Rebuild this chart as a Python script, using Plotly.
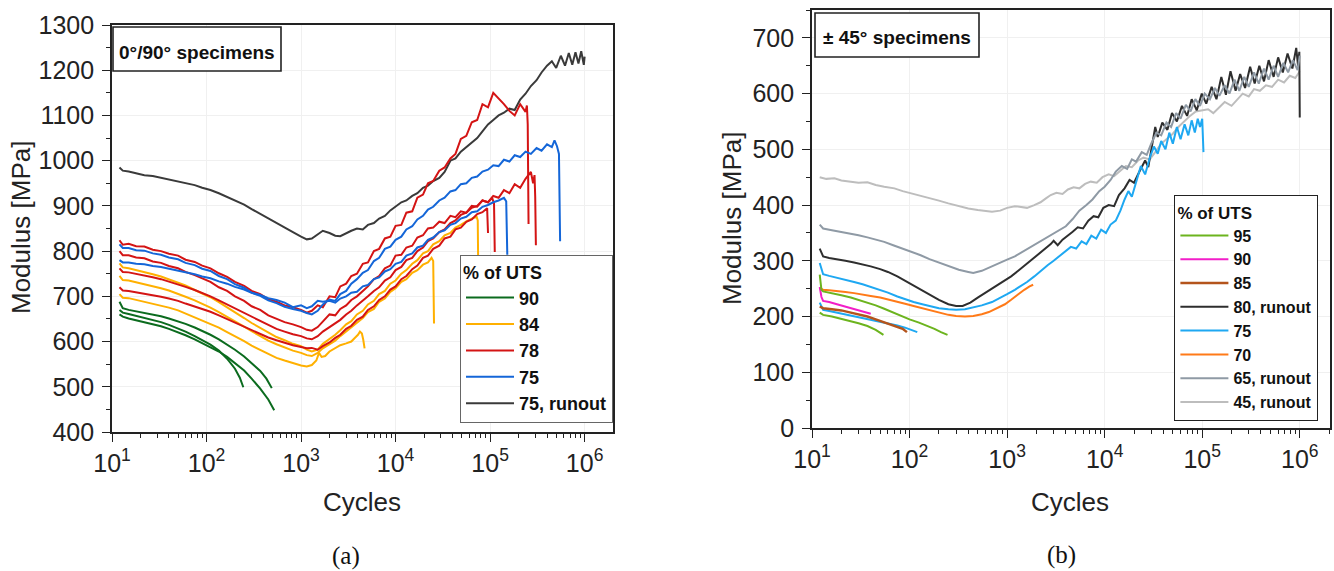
import plotly.graph_objects as go

# ======================= DATA =======================
# (a) 0°/90° specimens : (cycles, modulus MPa)
A90_1 = [(12,688),(13,674),(15,670),(18,667),(22,664),(27,660),(33,656),(40,651),(50,645),(60,639),(75,631),(90,624),(110,615),(135,605),(165,594),(200,582),(250,567),(300,553),(370,535),(430,518),(470,505),(490,497)]
A90_2 = [(12,670),(13,664),(15,661),(18,657),(22,653),(27,648),(33,643),(40,637),(50,629),(60,622),(75,612),(90,603),(110,593),(135,580),(165,562),(200,540),(225,520),(245,499)]
A90_3 = [(12,660),(13,655),(15,651),(18,647),(22,643),(27,639),(33,634),(40,628),(50,621),(60,614),(75,605),(90,597),(110,588),(135,578),(165,566),(200,553),(250,536),(300,518),(370,496),(450,472),(500,456),(520,448)]

A84_1 = [(12,773),(13,764),(15,762),(18,758),(22,755),(27,749),(33,744),(40,738),(50,731),(60,724),(75,714),(90,707),(110,698),(135,687),(165,676),(200,665),(250,652),(300,641),(370,630),(450,619),(550,610),(670,603),(820,595),
         (1000,590),(1150,582),(1300,578),(1500,582),(1700,595),(2000,605),(2300,615),(2600,625),(3000,638),(3400,645),(3900,660),(4500,668),(5100,682),(5900,690),(6700,705),(7700,712),(8800,728),(10000,735),(11500,750),(13000,758),(15000,772),(17000,780),(19500,795),(22000,800),(25000,815),(29000,822),(33000,835),(38000,840),(43000,852),(49000,858),(56000,866),(64000,872),(72000,876),(74000,868),(75000,742)]
A84_2 = [(12,745),(13,736),(15,735),(18,731),(22,728),(27,723),(33,718),(40,713),(50,706),(60,699),(75,691),(90,684),(110,675),(135,665),(165,655),(200,645),(250,633),(300,623),(370,612),(450,602),(550,594),(670,587),(820,580),
         (1000,575),(1150,570),(1300,568),(1500,575),(1700,585),(2000,595),(2300,602),(2600,612),(3000,622),(3400,632),(3900,642),(4500,652),(5100,665),(5900,672),(6700,688),(7700,695),(8800,710),(10000,718),(11500,732),(13000,738),(15000,752),(17000,758),(19500,770),(22000,775),(24000,785),(25000,778),(25500,640)]
A84_3 = [(12,705),(13,697),(15,696),(18,692),(22,689),(27,684),(33,680),(40,675),(50,669),(60,662),(75,654),(90,648),(110,640),(135,631),(165,621),(200,612),(250,601),(300,591),(370,582),(450,572),(550,564),(670,558),(820,552),
         (1000,547),(1150,545),(1300,548),(1450,558),(1550,575),(1650,566),(1800,568),(2000,578),(2300,585),(2600,592),(3000,596),(3400,600),(3700,608),(4000,615),(4200,622),(4400,618),(4550,604),(4700,585)]

A78_1 = [(12,824),(13,814),(15,816),(18,811),(22,810),(27,803),(33,800),(40,794),(50,790),(60,781),(75,776),(90,768),(110,762),(135,751),(165,743),(200,732),(250,723),(300,712),(370,705),(450,694),(550,688),(670,680),(820,676),
         (1000,670),(1150,664),(1300,668),(1500,680),(1700,676),(2000,700),(2300,698),(2600,722),(3000,728),(3400,745),(3900,750),(4500,772),(5100,775),(5900,800),(6700,805),(7700,828),(8800,832),(10000,856),(11500,858),(13000,885),(15000,888),(17000,918),(19500,925),(22000,950),(25000,955),(29000,978),(33000,985),(38000,1005),(43000,1015),(49000,1048),(56000,1055),(64000,1085),(73000,1090),(83000,1125),(95000,1118),(108000,1150),(123000,1138),(140000,1125),(160000,1110),(182000,1100),(208000,1125),(237000,1108),(245000,1122),(250000,1080),(255000,860)]
A78_2 = [(12,800),(13,791),(15,791),(18,786),(22,784),(27,777),(33,774),(40,767),(50,762),(60,754),(75,747),(90,739),(110,732),(135,720),(165,712),(200,700),(250,690),(300,678),(370,670),(450,658),(550,651),(670,643),(820,638),
         (1000,632),(1150,626),(1300,624),(1500,632),(1700,645),(2000,660),(2300,658),(2600,672),(3000,680),(3400,692),(3900,700),(4500,712),(5100,722),(5900,738),(6700,745),(7700,762),(8800,768),(10000,790),(11500,792),(13000,808),(15000,812),(17000,830),(19500,835),(22000,850),(25000,852),(29000,865),(33000,862),(38000,878),(43000,875),(49000,888),(56000,885),(64000,900),(73000,898),(83000,912),(95000,908),(108000,922),(123000,918),(140000,935),(160000,928),(182000,948),(208000,940),(237000,960),(270000,975),(285000,950),(295000,968),(300000,920),(305000,813)]
A78_3 = [(12,762),(13,754),(15,753),(18,750),(22,747),(27,742),(33,738),(40,733),(50,727),(60,721),(75,714),(90,708),(110,700),(135,691),(165,682),(200,673),(250,663),(300,654),(370,645),(450,636),(550,628),(670,622),(820,616),
         (1000,612),(1150,607),(1300,605),(1500,612),(1700,622),(2000,632),(2300,640),(2600,648),(3000,660),(3400,668),(3900,680),(4500,690),(5100,700),(5900,712),(6700,720),(7700,735),(8800,742),(10000,758),(11500,765),(13000,780),(15000,785),(17000,800),(19500,808),(22000,822),(25000,828),(29000,842),(33000,848),(38000,862),(43000,868),(49000,880),(56000,885),(64000,896),(73000,900),(83000,912),(95000,908),(105000,918),(110000,905),(112000,798)]
A78_4 = [(12,720),(13,713),(15,712),(18,709),(22,707),(27,703),(33,699),(40,695),(50,690),(60,684),(75,678),(90,672),(110,666),(135,658),(165,650),(200,642),(250,633),(300,625),(370,617),(450,609),(550,603),(670,597),(820,592),
         (1000,588),(1150,585),(1300,586),(1500,582),(1700,590),(2000,598),(2300,608),(2600,615),(3000,628),(3400,635),(3900,648),(4500,655),(5100,670),(5900,678),(6700,692),(7700,700),(8800,715),(10000,722),(11500,738),(13000,745),(15000,760),(17000,768),(19500,785),(22000,790),(25000,805),(29000,812),(33000,828),(38000,832),(43000,848),(49000,852),(56000,865),(64000,870),(73000,882),(83000,886),(93000,895),(95000,840)]

A75_1 = [(12,815),(13,807),(15,807),(18,802),(22,801),(27,795),(33,792),(40,786),(50,782),(60,774),(75,769),(90,761),(110,756),(135,745),(165,738),(200,727),(250,719),(300,708),(370,701),(450,691),(550,685),(670,677),(820,672),
         (1000,668),(1150,663),(1300,660),(1500,668),(1700,682),(2000,693),(2300,690),(2600,705),(3000,712),(3400,728),(3900,738),(4500,752),(5100,758),(5900,778),(6700,785),(7700,805),(8800,810),(10000,825),(11500,832),(13000,848),(15000,855),(17000,870),(19500,878),(22000,892),(25000,898),(29000,912),(33000,918),(38000,932),(43000,935),(49000,948),(56000,950),(64000,962),(73000,965),(83000,976),(95000,980),(108000,990),(123000,988),(140000,1002),(160000,998),(182000,1012),(208000,1008),(237000,1020),(270000,1015),(310000,1028),(350000,1022),(400000,1036),(450000,1030),(480000,1045),(510000,1032),(535000,1015),(550000,822)]
A75_2 = [(12,780),(13,775),(15,775),(18,772),(22,771),(27,767),(33,765),(40,761),(50,758),(60,753),(75,749),(90,744),(110,740),(135,733),(165,728),(200,721),(250,715),(300,708),(370,703),(450,696),(550,692),(670,686),(820,676),
         (1000,680),(1150,674),(1300,678),(1500,690),(1700,688),(2000,690),(2300,686),(2600,695),(3000,700),(3400,708),(3900,710),(4500,722),(5100,725),(5900,738),(6700,742),(7700,755),(8800,760),(10000,772),(11500,776),(13000,790),(15000,795),(17000,808),(19500,812),(22000,825),(25000,830),(29000,842),(33000,846),(38000,858),(43000,862),(49000,872),(56000,876),(64000,886),(73000,888),(83000,898),(95000,902),(108000,908),(123000,912),(140000,918),(148000,910),(152000,792)]

A75_RUN = [(12,985),(13,978),(15,976),(18,972),(22,968),(27,966),(33,962),(40,958),(50,955),(60,950),(75,946),(90,940),(110,935),(135,928),(165,920),(200,912),(250,903),(300,893),(370,882),(450,872),(550,862),(670,852),(820,842),
           (1000,832),(1150,826),(1300,828),(1500,838),(1700,845),(2000,840),(2300,834),(2600,833),(3000,840),(3400,845),(3900,850),(4500,848),(5100,858),(5900,862),(6700,872),(7700,878),(8800,890),(10000,898),(11500,908),(13000,912),(15000,922),(17000,928),(19500,940),(22000,945),(25000,955),(29000,962),(33000,975),(38000,1000),(43000,1005),(49000,1020),(56000,1030),(64000,1040),(73000,1050),(83000,1065),(95000,1080),(108000,1090),(123000,1100),(140000,1106),(160000,1115),(182000,1112),(208000,1135),(237000,1148),(270000,1165),(310000,1178),(350000,1195),(400000,1210),(450000,1220),(500000,1205),(560000,1232),(620000,1210),(680000,1238),(740000,1212),(800000,1240),(860000,1215),(920000,1242),(980000,1212),(1000000,1230)]

# (b) ±45° specimens : (cycles, modulus MPa)
B95_1 = [(12,275),(12.5,248),(13,245),(16,242),(20,238),(25,234),(30,230),(37,225),(45,220),(55,214),(68,207),(85,200),(100,195),(125,189),(150,184),(180,178),(210,172),(245,167)]
B95_2 = [(12,207),(13,203),(16,200),(20,196),(25,192),(30,188),(37,183),(45,176),(54,167)]
B90_1 = [(12,253),(12.5,235),(13,228),(15,226),(18,222),(22,218),(27,214),(33,210),(40,205)]
B85_1 = [(12,218),(13,215),(16,213),(20,211),(25,207),(30,204),(37,200),(45,195),(55,190),(65,186),(75,182),(85,178),(94,172)]
B80_RUN = [(12,322),(13,308),(15,305),(18,303),(22,300),(27,297),(33,294),(40,290),(50,285),(60,280),(75,272),(90,264),(110,256),(135,247),(165,238),(200,230),(250,222),(300,219),(350,219),(420,225),(500,234),(600,243),(750,253),(900,262),(1100,272),(1300,282),(1600,295),(1900,305),(2200,315),(2500,322),(2800,330),(3000,336),(3300,328),(3700,338),(4200,345),(4700,352),(5300,360),(6000,358),(6800,372),(7700,380),(8600,378),(9700,395),(11000,400),(12500,398),(14000,418),(16000,430),(18000,445),(20000,440),(23000,462),(26000,480),(28000,468),(31000,510),(33000,540),(35000,522),(39000,548),(44000,535),(49000,565),(55000,550),(62000,578),(70000,560),(78000,590),(88000,570),(99000,600),(110000,582),(125000,612),(140000,590),(157000,630),(175000,598),(195000,640),(220000,605),(245000,635),(275000,610),(310000,648),(345000,618),(385000,650),(430000,622),(480000,660),(540000,630),(600000,665),(670000,638),(750000,672),(840000,645),(920000,682),(960000,650),(990000,675),(1000000,557)]
B75_1 = [(12,296),(13,276),(15,273),(18,270),(22,266),(27,262),(33,258),(40,253),(50,248),(60,243),(75,236),(90,231),(110,226),(135,222),(165,218),(200,215),(250,213),(300,212),(370,213),(450,216),(550,220),(700,226),(850,233),(1000,240),(1200,248),(1400,255),(1600,262),(1900,272),(2200,282),(2600,292),(3000,300),(3500,310),(4000,318),(4500,325),(5100,322),(5800,335),(6500,330),(7300,345),(8200,340),(9200,356),(10300,350),(11500,365),(13000,372),(14500,390),(16000,410),(17500,425),(19000,415),(21000,440),(23500,470),(26000,455),(29000,485),(32000,505),(35000,492),(38000,515),(42000,500),(46000,530),(50000,510),(55000,540),(60000,518),(66000,545),(72000,525),(78000,552),(84000,530),(90000,555),(95000,540),(100000,555),(103000,495)]
B75_2 = [(12,225),(13,212),(15,210),(18,207),(22,204),(27,201),(33,198),(40,195),(50,191),(60,188),(75,184),(90,180),(110,175),(120,172)]
B70_1 = [(12,252),(13,248),(15,247),(18,246),(22,244),(27,242),(33,240),(40,237),(50,234),(60,231),(75,227),(90,223),(110,219),(135,215),(165,210),(200,206),(250,203),(300,201),(370,200),(450,201),(550,204),(650,208),(800,215),(950,222),(1100,230),(1300,240),(1500,248),(1700,254),(1850,257)]
B65_RUN = [(12,365),(13,358),(16,355),(20,352),(25,348),(30,346),(37,342),(45,338),(55,334),(68,328),(85,322),(100,317),(130,310),(160,303),(200,297),(250,290),(320,284),(400,280),(450,278),(550,282),(650,288),(800,294),(1000,302),(1200,308),(1500,318),(1800,325),(2200,335),(2600,342),(3000,348),(3500,355),(4000,362),(4700,375),(5500,390),(6500,400),(7500,410),(8800,425),(10000,433),(11500,445),(13000,460),(15000,470),(17000,465),(19000,482),(21000,478),(24000,495),(27000,490),(30000,510),(34000,530),(38000,525),(43000,548),(48000,540),(54000,565),(60000,555),(68000,580),(76000,568),(85000,590),(95000,578),(106000,600),(120000,590),(135000,610),(150000,596),(170000,615),(190000,600),(215000,625),(240000,605),(270000,630),(300000,612),(340000,638),(380000,618),(430000,645),(480000,625),(540000,650),(600000,630),(680000,655),(760000,638),(850000,660),(950000,642),(1000000,668)]
B45_RUN = [(12,450),(14,447),(17,448),(20,444),(25,442),(30,440),(37,441),(45,436),(55,433),(70,430),(85,425),(100,422),(130,416),(160,412),(200,408),(250,403),(320,398),(400,394),(500,391),(600,389),(700,388),(850,390),(1000,395),(1200,398),(1400,396),(1600,395),(1900,400),(2200,405),(2500,412),(2800,418),(3200,422),(3700,420),(4200,428),(4800,432),(5500,430),(6300,438),(7200,442),(8300,440),(9500,450),(11000,455),(12500,452),(14500,462),(16500,470),(19000,468),(22000,480),(25000,485),(29000,482),(33000,495),(38000,510),(43000,518),(50000,528),(57000,540),(65000,550),(75000,560),(86000,568),(100000,570),(115000,572),(130000,565),(150000,575),(170000,585),(200000,578),(230000,590),(260000,600),(300000,595),(340000,608),(390000,605),(450000,615),(520000,612),(600000,625),(690000,620),(790000,632),(900000,628),(1000000,640)]

X_TICKS = [10, 100, 1000, 10000, 100000, 1000000]
X_TICKTEXT = ["10<sup>1</sup>", "10<sup>2</sup>", "10<sup>3</sup>", "10<sup>4</sup>", "10<sup>5</sup>", "10<sup>6</sup>"]

# ======================= FIGURE =======================
W, H = 1334, 571
FONT = "Liberation Sans, Arial, sans-serif"
fig = go.Figure()

def add(series, color, name, xa, ya, legend, show, rank, width=2.0):
    fig.add_trace(go.Scatter(
        x=[p[0] for p in series], y=[p[1] for p in series], mode="lines",
        line=dict(color=color, width=width), name=name, legendgroup=legend + name,
        showlegend=show, legend=legend, legendrank=rank, xaxis=xa, yaxis=ya,
        hoverinfo="skip"))

# left panel
C_G, C_O, C_R, C_B, C_K = "#0b6b1e", "#ffb000", "#d41414", "#1466d8", "#3a3a3a"
add(A75_RUN, C_K, "75, runout", "x", "y", "legend", True, 5)
add(A90_1, C_G, "90", "x", "y", "legend", True, 1)
add(A90_2, C_G, "90", "x", "y", "legend", False, 1)
add(A90_3, C_G, "90", "x", "y", "legend", False, 1)
add(A84_1, C_O, "84", "x", "y", "legend", True, 2)
add(A84_2, C_O, "84", "x", "y", "legend", False, 2)
add(A84_3, C_O, "84", "x", "y", "legend", False, 2)
add(A78_4, C_R, "78", "x", "y", "legend", True, 3)
add(A78_3, C_R, "78", "x", "y", "legend", False, 3)
add(A78_2, C_R, "78", "x", "y", "legend", False, 3)
add(A78_1, C_R, "78", "x", "y", "legend", False, 3)
add(A75_2, C_B, "75", "x", "y", "legend", True, 4)
add(A75_1, C_B, "75", "x", "y", "legend", False, 4)

# right panel
add(B45_RUN, "#bdbdbd", "45, runout", "x2", "y2", "legend2", True, 8)
add(B80_RUN, "#2e2e2e", "80, runout", "x2", "y2", "legend2", True, 4)
add(B65_RUN, "#8f9aa5", "65, runout", "x2", "y2", "legend2", True, 7)
add(B75_1, "#1ea8f2", "75", "x2", "y2", "legend2", True, 5)
add(B75_2, "#1ea8f2", "75", "x2", "y2", "legend2", False, 5)
add(B70_1, "#ff7a18", "70", "x2", "y2", "legend2", True, 6)
add(B85_1, "#b4541c", "85", "x2", "y2", "legend2", True, 3, 2.5)
add(B90_1, "#f21ec8", "90", "x2", "y2", "legend2", True, 2)
add(B95_1, "#6cb41e", "95", "x2", "y2", "legend2", True, 1)
add(B95_2, "#6cb41e", "95", "x2", "y2", "legend2", False, 1)

AX_COL = "#222222"
minor_x = [m * 10 ** e for e in range(1, 7) for m in range(2, 10)]

def xaxis(dom, rng, anchor):
    return dict(domain=dom, type="log", range=rng, anchor=anchor, automargin=False,
                showline=True, linecolor=AX_COL, linewidth=1.6, mirror=True,
                ticks="outside", ticklen=8, tickwidth=1.4, tickcolor=AX_COL,
                tickvals=X_TICKS, ticktext=X_TICKTEXT,
                tickfont=dict(family=FONT, size=25, color=AX_COL),
                showgrid=True, gridcolor="#f0f0f0", gridwidth=1, zeroline=False,
                minor=dict(tickvals=minor_x, ticks="outside", ticklen=4, tickwidth=1.2,
                           tickcolor=AX_COL, showgrid=False))

def yaxis(dom, rng, anchor, dt):
    return dict(domain=dom, range=rng, anchor=anchor, automargin=False,
                showline=True, linecolor=AX_COL, linewidth=1.6, mirror=True,
                ticks="outside", ticklen=8, tickwidth=1.4, tickcolor=AX_COL,
                dtick=dt, tick0=0, ticklabelstandoff=3,
                tickfont=dict(family=FONT, size=25, color=AX_COL),
                showgrid=True, gridcolor="#f0f0f0", gridwidth=1, zeroline=False,
                minor=dict(dtick=dt / 2, ticks="outside", ticklen=4, tickwidth=1.2,
                           tickcolor=AX_COL, showgrid=False))

xl = (112, 613); yl = (25, 432)
xr = (812, 1330); yr = (10, 428)
fig.update_layout(
    template="none",
    width=W, height=H, autosize=False,
    margin=dict(l=0, r=0, t=0, b=0, pad=0),
    paper_bgcolor="white", plot_bgcolor="white",
    font=dict(family=FONT, color=AX_COL),
    xaxis=xaxis([xl[0] / W, xl[1] / W], [1, 6.3], "y"),
    yaxis=yaxis([1 - yl[1] / H, 1 - yl[0] / H], [400, 1300], "x", 100),
    xaxis2=xaxis([xr[0] / W, xr[1] / W], [1, 6.31], "y2"),
    yaxis2=yaxis([1 - yr[1] / H, 1 - yr[0] / H], [0, 750], "x2", 100),
    legend=dict(x=613 / W, y=1 - 423 / H, xanchor="right", yanchor="bottom",
                bgcolor="white", bordercolor="#666666", borderwidth=1,
                font=dict(family=FONT, size=18, color="#111", weight="bold"),
                title=dict(text="% of UTS", font=dict(family=FONT, size=18, color="#111", weight="bold")),
                itemwidth=48, tracegroupgap=0, traceorder="normal"),
    legend2=dict(x=1318 / W, y=1 - 421 / H, xanchor="right", yanchor="bottom",
                 bgcolor="white", bordercolor="#222222", borderwidth=1.4,
                 font=dict(family=FONT, size=16, color="#111", weight="bold"),
                 title=dict(text="% of UTS", font=dict(family=FONT, size=17, color="#111", weight="bold")),
                 itemwidth=48, tracegroupgap=0, traceorder="normal"),
)

def ann(x, y, text, size, family=FONT, angle=0, color=AX_COL):
    fig.add_annotation(xref="paper", yref="paper", x=x / W, y=1 - y / H, showarrow=False,
                       xanchor="center", yanchor="middle", text=text, textangle=angle,
                       font=dict(family=family, size=size, color=color))

# specimen boxes
fig.add_shape(type="rect", xref="paper", yref="paper", x0=113 / W, x1=281 / W,
              y0=1 - 71 / H, y1=1 - 27 / H, line=dict(color="#222", width=1.6), fillcolor="white")
ann(197, 52, "<b>0°/90° specimens</b>", 19, color="#111")
fig.add_shape(type="rect", xref="paper", yref="paper", x0=815 / W, x1=979 / W,
              y0=1 - 57 / H, y1=1 - 13 / H, line=dict(color="#222", width=1.6), fillcolor="white")
ann(897, 38, "<b>± 45° specimens</b>", 19, color="#111")

# axis titles and captions
ann(21, 228, "Modulus [MPa]", 26, angle=-90)
ann(732, 219, "Modulus [MPa]", 26, angle=-90)
ann(362, 502, "Cycles", 26)
ann(1070, 502, "Cycles", 26)
SERIF = "Liberation Serif, Times New Roman, serif"
ann(346, 556, "(a)", 25, family=SERIF, color="#111")
ann(1061, 555, "(b)", 25, family=SERIF, color="#111")

fig.write_html("out.html")
